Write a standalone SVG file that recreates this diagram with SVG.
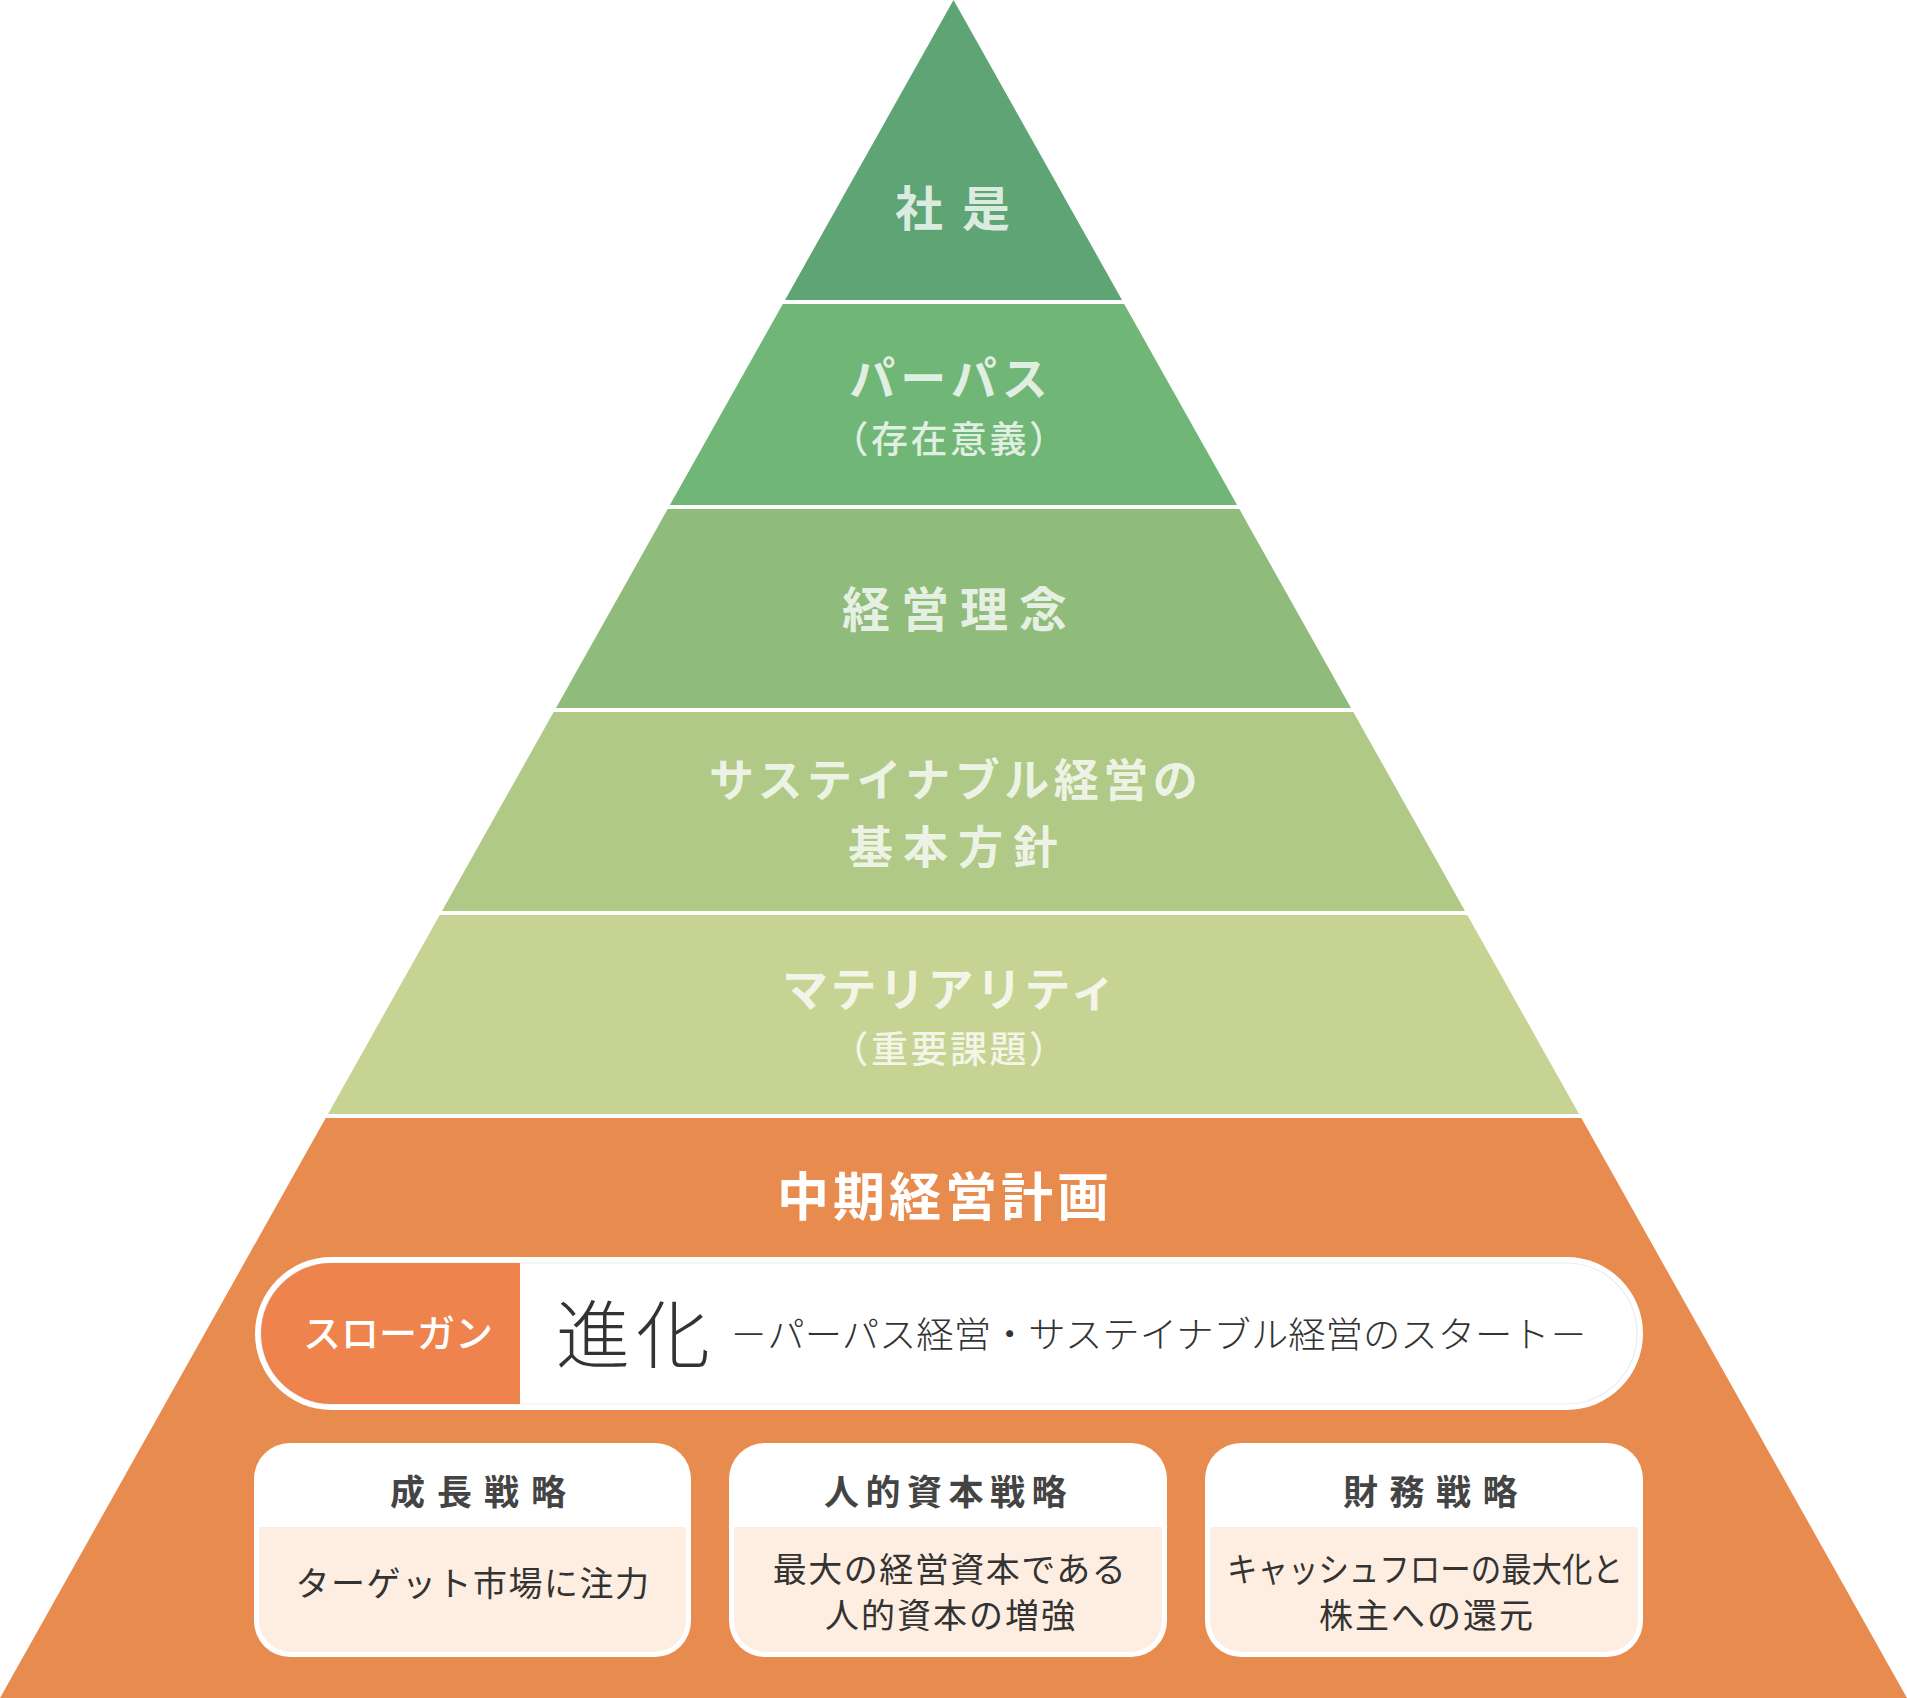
<svg xmlns="http://www.w3.org/2000/svg" width="1907" height="1698" viewBox="0 0 1907 1698">
<style>
  .lt{font-family:"Noto Sans CJK JP","Noto Sans",sans-serif;fill:#ffffff;fill-opacity:0.78;font-weight:700}
  .lp{font-family:"Noto Sans CJK JP","Noto Sans",sans-serif;fill:#ffffff;fill-opacity:0.78;font-weight:500}
  .mid{font-family:"Noto Sans CJK JP","Noto Sans",sans-serif;fill:#ffffff;font-weight:700}
  .hd{font-family:"Noto Sans CJK JP","Noto Sans",sans-serif;fill:#444444;font-weight:700;font-size:35px}
  .bd{font-family:"Noto Sans CJK JP","Noto Sans",sans-serif;fill:#333333;font-weight:400;font-size:34px}
  .sl{font-family:"Noto Sans CJK JP","Noto Sans",sans-serif;fill:#333333;font-weight:300}
  .box{fill:#ffffff}
  .body{fill:#fdeee1}
</style>
<rect width="1907" height="1698" fill="#ffffff"/>

<g id="layer-shaze">
  <polygon points="953.5,0 1122,300 785,300" fill="#5ea474"/>
  <text class="lt" x="895" y="226" font-size="48" letter-spacing="19">社是</text>
</g>

<g id="layer-purpose">
  <polygon points="782.8,304 1124.2,304 1237.1,505 669.9,505" fill="#70b676"/>
  <text class="lt" x="951" y="395" font-size="46" letter-spacing="5" text-anchor="middle">パーパス</text>
  <text class="lp" x="950" y="453" font-size="37" letter-spacing="2.5" text-anchor="middle">（存在意義）</text>
</g>

<g id="layer-rinen">
  <polygon points="667.7,509 1239.3,509 1351,708 556,708" fill="#8fbb7b"/>
  <text class="lt" x="842" y="627" font-size="48" letter-spacing="11">経営理念</text>
</g>

<g id="layer-sustainable">
  <polygon points="553.7,712 1353.3,712 1465,911 442,911" fill="#b0c986"/>
  <text class="lt" x="709" y="797" font-size="45" letter-spacing="4.5">サステイナブル経営の</text>
  <text class="lt" x="848" y="864" font-size="45" letter-spacing="10">基本方針</text>
</g>

<g id="layer-materiality">
  <polygon points="439.7,915 1467.3,915 1579,1114 328,1114" fill="#c6d393"/>
  <text class="lt" x="782" y="1006" font-size="46" letter-spacing="2.5">マテリアリティ</text>
  <text class="lp" x="950" y="1063" font-size="37" letter-spacing="2.5" text-anchor="middle">（重要課題）</text>
</g>

<g id="layer-midterm">
  <polygon points="325.7,1118 1581.3,1118 1907,1698 0,1698" fill="#e88b4e"/>
  <text class="mid" x="777" y="1216" font-size="52" letter-spacing="4">中期経営計画</text>
</g>

<g id="slogan">
  <rect x="255" y="1257" width="1388" height="153" rx="76.5" ry="76.5" fill="#ffffff"/>
  <rect x="261" y="1263" width="1376" height="141" rx="70.5" ry="70.5" fill="none" stroke="#ececec" stroke-width="1.2"/>
  <path d="M520,1263 L331.5,1263 A70.5,70.5 0 0 0 331.5,1404 L520,1404 Z" fill="#ef834e"/>
  <text x="398" y="1347" font-family="Noto Sans CJK JP, Noto Sans, sans-serif" font-size="38" font-weight="500" fill="#ffffff" text-anchor="middle">スローガン</text>
  <text class="sl" x="556" y="1362" font-size="74" letter-spacing="6">進化</text>
  <text class="sl" x="730" y="1348" font-size="36" textLength="857" lengthAdjust="spacingAndGlyphs">－パーパス経営・サステイナブル経営のスタート－</text>
</g>

<g id="strategy-growth">
  <rect class="box" x="254" y="1443" width="437" height="214" rx="36"/>
  <path class="body" d="M259,1527 H686 V1620 A32,32 0 0 1 654,1652 H291 A32,32 0 0 1 259,1620 Z"/>
  <text class="hd" x="390" y="1505" letter-spacing="12">成長戦略</text>
  <text class="bd" x="473" y="1596" text-anchor="middle" letter-spacing="1.5">ターゲット市場に注力</text>
</g>

<g id="strategy-human">
  <rect class="box" x="729" y="1443" width="438" height="214" rx="36"/>
  <path class="body" d="M734,1527 H1162 V1620 A32,32 0 0 1 1130,1652 H766 A32,32 0 0 1 734,1620 Z"/>
  <text class="hd" x="824" y="1505" letter-spacing="6.5">人的資本戦略</text>
  <text class="bd" x="950" y="1582" text-anchor="middle" letter-spacing="1.5">最大の経営資本である</text>
  <text class="bd" x="951" y="1628" text-anchor="middle" letter-spacing="2">人的資本の増強</text>
</g>

<g id="strategy-finance">
  <rect class="box" x="1205" y="1443" width="438" height="214" rx="36"/>
  <path class="body" d="M1210,1527 H1638 V1620 A32,32 0 0 1 1606,1652 H1242 A32,32 0 0 1 1210,1620 Z"/>
  <text class="hd" x="1343" y="1505" letter-spacing="11.5">財務戦略</text>
  <text class="bd" x="1227" y="1582" textLength="396" lengthAdjust="spacingAndGlyphs">キャッシュフローの最大化と</text>
  <text class="bd" x="1427" y="1628" text-anchor="middle" letter-spacing="2">株主への還元</text>
</g>
</svg>
